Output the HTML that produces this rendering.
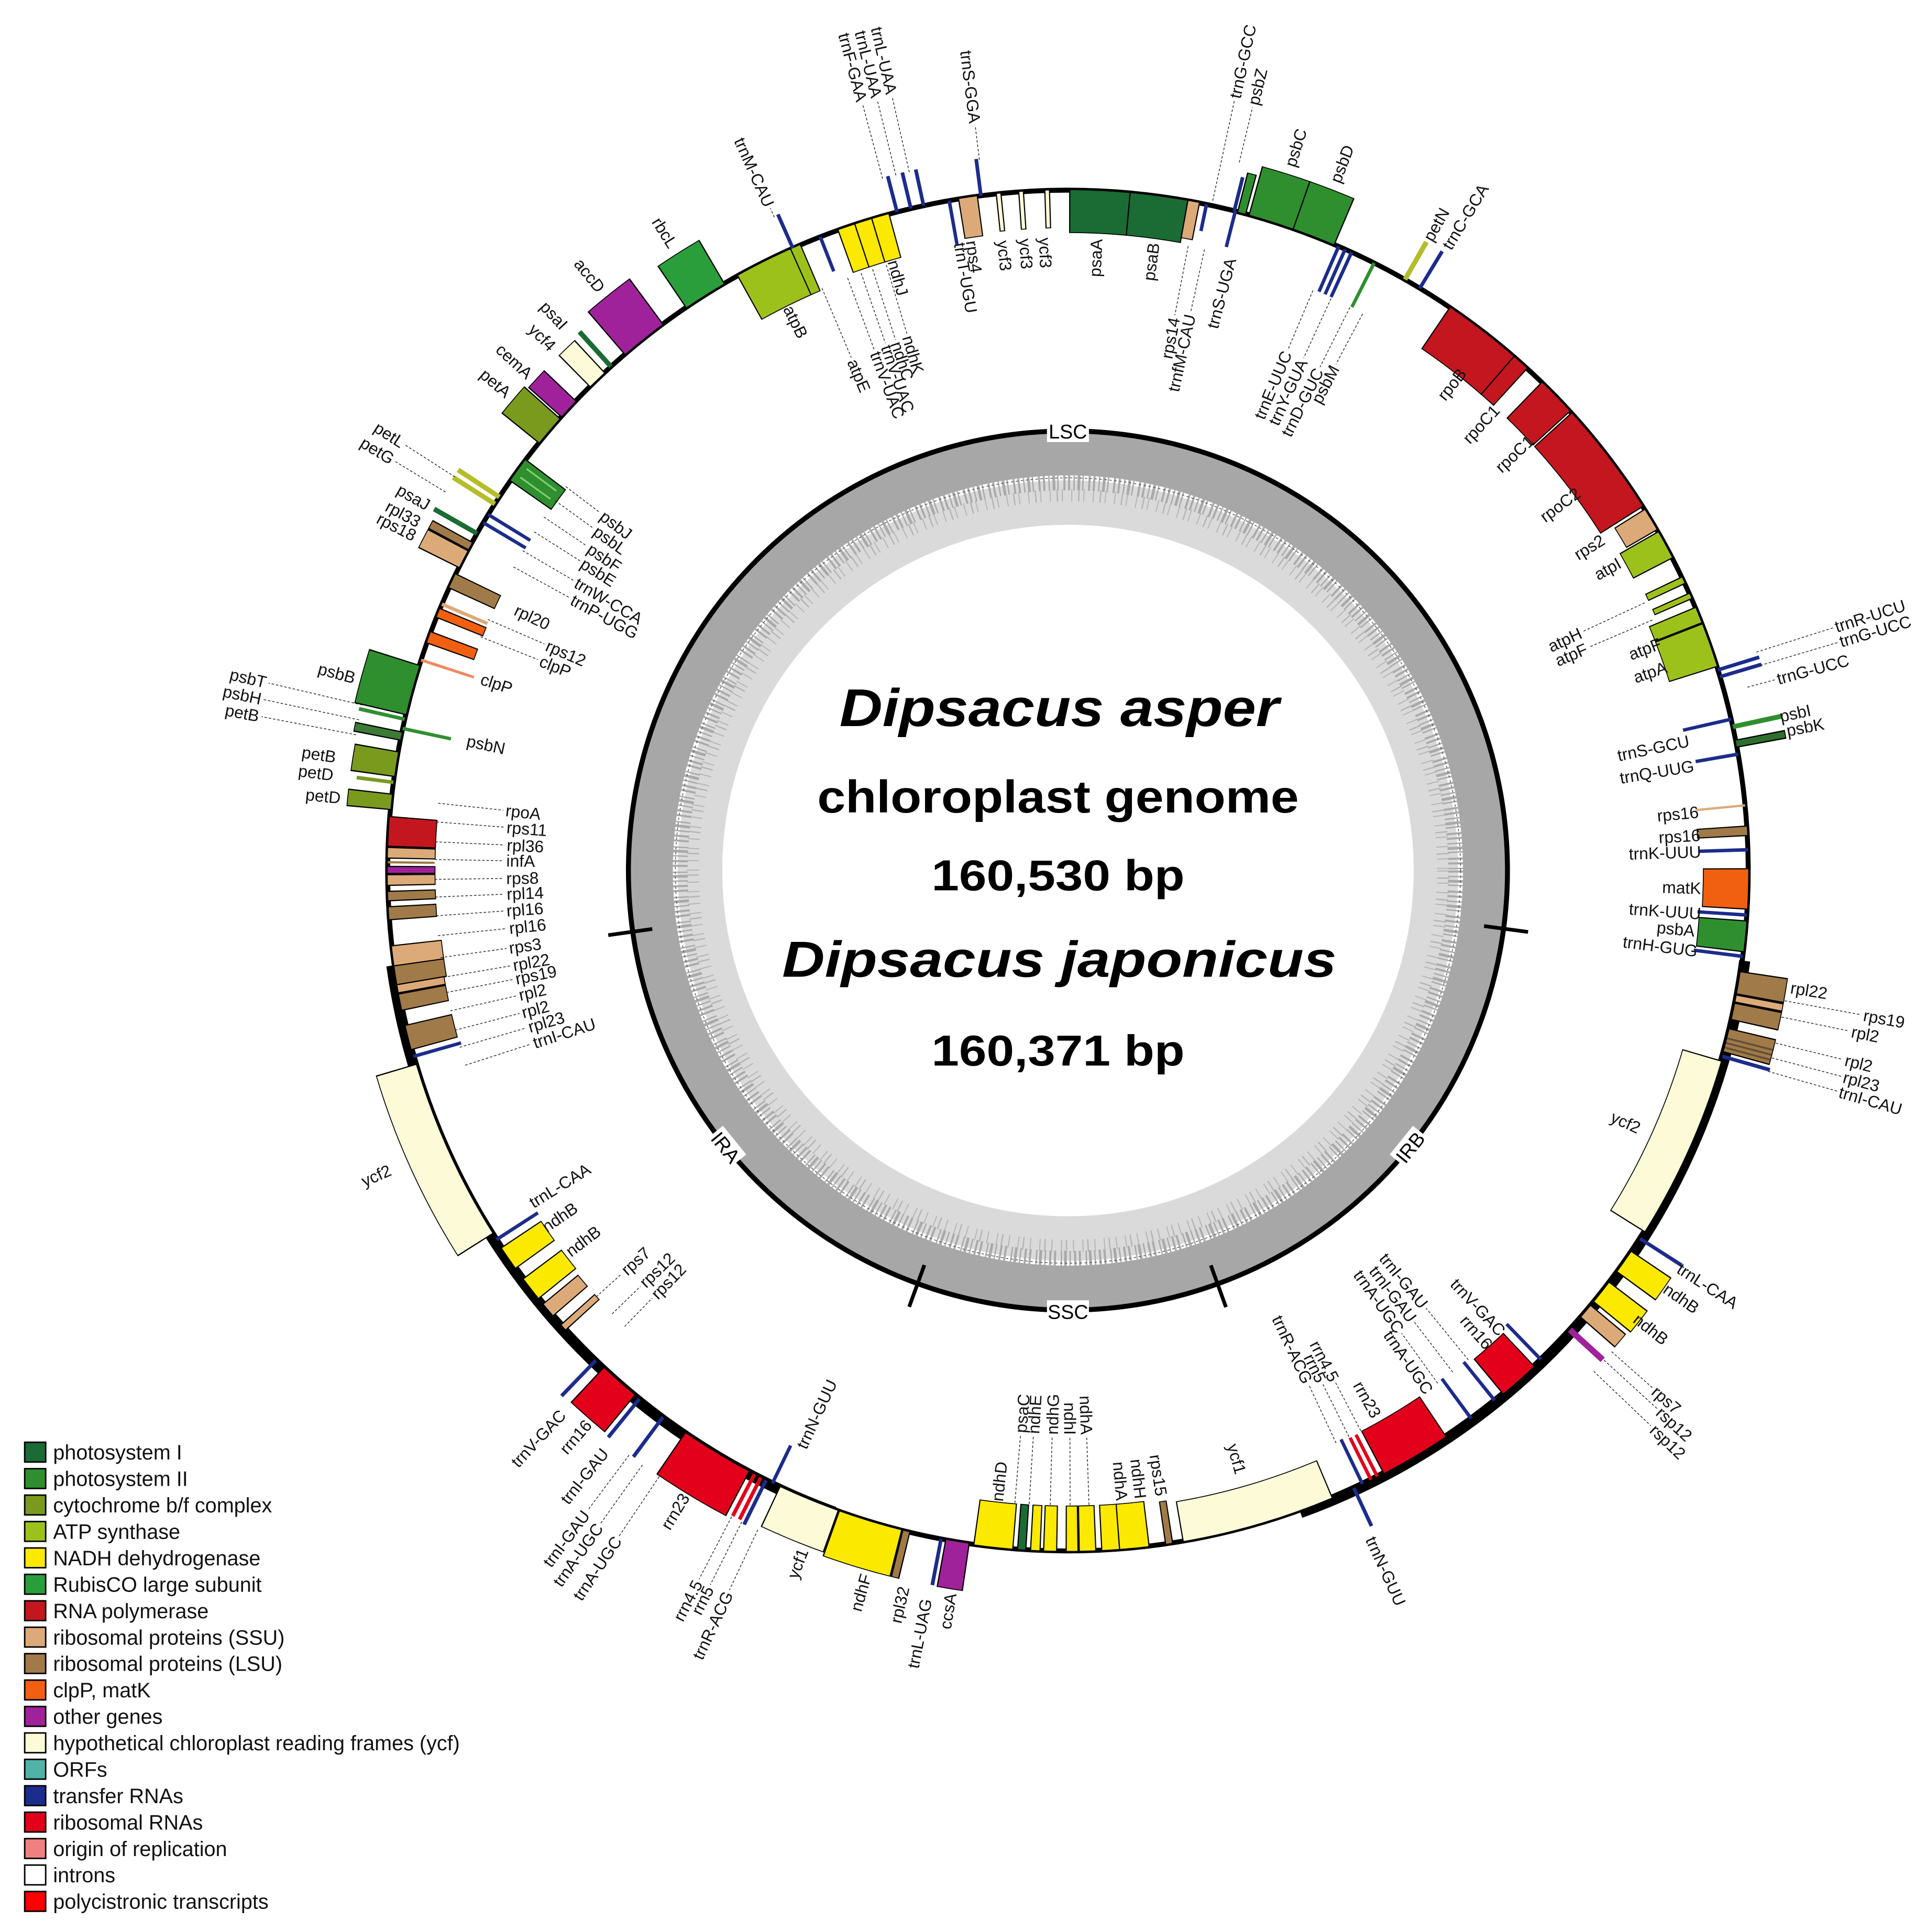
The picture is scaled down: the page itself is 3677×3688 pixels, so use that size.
<!DOCTYPE html>
<html><head><meta charset="utf-8"><style>
html,body{margin:0;padding:0;background:#fff}
svg{display:block}
text{font-family:"Liberation Sans",Arial,sans-serif}
.L text{font-size:13.5px;dominant-baseline:central;fill:#111}
.s{text-anchor:start}.e{text-anchor:end}
circle{fill:none}
.k{stroke:#000}
.p1{stroke:#1a6b34}.p2{stroke:#2f8f2f}.cy{stroke:#7a9a1e}.at{stroke:#9dc11b}.nd{stroke:#fbe900}
.rb{stroke:#2a9e3a}.rp{stroke:#c3161f}.ss{stroke:#dcaa78}.ls{stroke:#a07a48}.cl{stroke:#f06010}
.ot{stroke:#a0229a}.yc{stroke:#fdfad8}.tr{stroke:#1c2c8c}.rr{stroke:#e3001b}.pn{stroke:#b5bd2a}
.ld path{stroke:#222;stroke-width:0.6;fill:none;stroke-dasharray:2 1.5}
</style></head><body>
<svg xmlns="http://www.w3.org/2000/svg" width="3677" height="3688" viewBox="0 0 1560 1564.6" preserveAspectRatio="none">
<rect width="1560" height="1564.6" fill="#fff"/>
<g transform="translate(865,705)">
<circle r="298" stroke="#dadada" stroke-width="36"/>
<circle r="338" stroke="#a7a7a7" stroke-width="36"/>
<circle r="314" pathLength="360" stroke="#a9a9a9" stroke-width="12" stroke-dasharray="0.3 0.5 0.2 0.4 0.4 0.3 0.2 0.7 0.3 0.4"/>
<circle r="304" pathLength="360" stroke="#b4b4b4" stroke-width="10" stroke-dasharray="0.15 0.9 0.2 0.6 0.15 1.3"/>
<circle r="318" stroke="#555" stroke-width="0.6" stroke-dasharray="2 2"/>
<circle r="356" stroke="#000" stroke-width="4"/>
<g stroke="#000" stroke-width="3">
<path d="M0-340V-376" transform="rotate(97.6)"/><path d="M0-340V-376" transform="rotate(160.1)"/>
<path d="M0-340V-376" transform="rotate(200)"/><path d="M0-340V-376" transform="rotate(262)"/>
</g>
</g>
<rect x="848" y="340" width="34" height="18" fill="#fff"/><text x="865" y="355" font-size="16" text-anchor="middle">LSC</text>
<rect x="848" y="1053" width="34" height="18" fill="#fff"/><text x="865" y="1068" font-size="16" text-anchor="middle">SSC</text>
<g transform="translate(588,929) rotate(51)"><rect x="-15" y="-9" width="30" height="18" fill="#fff"/><text y="6" font-size="16" text-anchor="middle">IRA</text></g>
<g transform="translate(1142,929) rotate(-51)"><rect x="-15" y="-9" width="30" height="18" fill="#fff"/><text y="6" font-size="16" text-anchor="middle">IRB</text></g>

<text x="858" y="588" font-size="43" font-weight="bold" font-style="italic" text-anchor="middle" textLength="356" lengthAdjust="spacingAndGlyphs">Dipsacus asper</text>
<text x="857" y="658" font-size="37" font-weight="bold" text-anchor="middle" textLength="390" lengthAdjust="spacingAndGlyphs">chloroplast genome</text>
<text x="857" y="721" font-size="35" font-weight="bold" text-anchor="middle" textLength="205" lengthAdjust="spacingAndGlyphs">160,530 bp</text>
<text x="858" y="791" font-size="41" font-weight="bold" font-style="italic" text-anchor="middle" textLength="449" lengthAdjust="spacingAndGlyphs">Dipsacus japonicus</text>
<text x="857" y="863" font-size="35" font-weight="bold" text-anchor="middle" textLength="205" lengthAdjust="spacingAndGlyphs">160,371 bp</text>

<g transform="translate(865,705)">
<circle r="551" stroke="#000" stroke-width="4"/>
<circle r="553" pathLength="360" stroke="#000" stroke-width="9" stroke-dasharray="62.5 999" transform="rotate(7.6)"/>
<circle r="553" pathLength="360" stroke="#000" stroke-width="9" stroke-dasharray="62 999" transform="rotate(110)"/>

<circle r="534" pathLength="360" class="k" stroke-width="35.4" stroke-dasharray="5.2 999" transform="rotate(-89.9)"/><circle r="534" pathLength="360" class="p1" stroke-width="34" stroke-dasharray="5 999" transform="rotate(-89.8)"/>
<circle r="534" pathLength="360" class="k" stroke-width="35.4" stroke-dasharray="5 999" transform="rotate(-84.8)"/><circle r="534" pathLength="360" class="p1" stroke-width="34" stroke-dasharray="4.8 999" transform="rotate(-84.7)"/>
<circle r="536" pathLength="360" class="k" stroke-width="31.4" stroke-dasharray="1.1 999" transform="rotate(-79.9)"/><circle r="536" pathLength="360" class="ss" stroke-width="30" stroke-dasharray="0.9 999" transform="rotate(-79.8)"/>
<circle r="540" pathLength="360" class="tr" stroke-width="22" stroke-dasharray="0.3 999" transform="rotate(-78.4)"/>
<circle r="536" pathLength="360" class="tr" stroke-width="30" stroke-dasharray="0.3 999" transform="rotate(-75.9)"/>
<circle r="565" pathLength="360" class="tr" stroke-width="28" stroke-dasharray="0.3 999" transform="rotate(-76)"/>
<circle r="567" pathLength="360" class="k" stroke-width="33.4" stroke-dasharray="0.8 999" transform="rotate(-75.6)"/><circle r="567" pathLength="360" class="p2" stroke-width="32" stroke-dasharray="0.6 999" transform="rotate(-75.5)"/>
<circle r="571" pathLength="360" class="k" stroke-width="41.4" stroke-dasharray="4.1 999" transform="rotate(-74.6)"/><circle r="571" pathLength="360" class="p2" stroke-width="40" stroke-dasharray="3.9 999" transform="rotate(-74.5)"/>
<circle r="571" pathLength="360" class="k" stroke-width="41.4" stroke-dasharray="3.8 999" transform="rotate(-70.7)"/><circle r="571" pathLength="360" class="p2" stroke-width="40" stroke-dasharray="3.6 999" transform="rotate(-70.6)"/>
<circle r="531" pathLength="360" class="tr" stroke-width="40" stroke-dasharray="0.3 999" transform="rotate(-66.7)"/>
<circle r="531" pathLength="360" class="tr" stroke-width="40" stroke-dasharray="0.3 999" transform="rotate(-66.1)"/>
<circle r="531" pathLength="360" class="tr" stroke-width="40" stroke-dasharray="0.3 999" transform="rotate(-65.5)"/>
<circle r="531" pathLength="360" class="p2" stroke-width="40" stroke-dasharray="0.3 999" transform="rotate(-63.4)"/>
<circle r="568.5" pathLength="360" class="pn" stroke-width="35" stroke-dasharray="0.4 999" transform="rotate(-60.5)"/>
<circle r="568.5" pathLength="360" class="tr" stroke-width="35" stroke-dasharray="0.3 999" transform="rotate(-59)"/>
<circle r="531" pathLength="360" class="k" stroke-width="41.4" stroke-dasharray="7 999" transform="rotate(-55.9)"/><circle r="531" pathLength="360" class="rp" stroke-width="40" stroke-dasharray="6.8 999" transform="rotate(-55.8)"/>
<circle r="531" pathLength="360" class="k" stroke-width="41.4" stroke-dasharray="1.6 999" transform="rotate(-49.1)"/><circle r="531" pathLength="360" class="rp" stroke-width="40" stroke-dasharray="1.4 999" transform="rotate(-49)"/>
<circle r="531" pathLength="360" class="k" stroke-width="41.4" stroke-dasharray="3.5 999" transform="rotate(-45.9)"/><circle r="531" pathLength="360" class="rp" stroke-width="40" stroke-dasharray="3.3 999" transform="rotate(-45.8)"/>
<circle r="531" pathLength="360" class="k" stroke-width="41.4" stroke-dasharray="10 999" transform="rotate(-42.3)"/><circle r="531" pathLength="360" class="rp" stroke-width="40" stroke-dasharray="9.8 999" transform="rotate(-42.2)"/>
<circle r="537" pathLength="360" class="k" stroke-width="29.4" stroke-dasharray="2.1 999" transform="rotate(-32.1)"/><circle r="537" pathLength="360" class="ss" stroke-width="28" stroke-dasharray="1.9 999" transform="rotate(-32)"/>
<circle r="533.5" pathLength="360" class="k" stroke-width="36.4" stroke-dasharray="2.6 999" transform="rotate(-29.9)"/><circle r="533.5" pathLength="360" class="at" stroke-width="35" stroke-dasharray="2.4 999" transform="rotate(-29.8)"/>
<circle r="535" pathLength="360" class="k" stroke-width="33.4" stroke-dasharray="0.7 999" transform="rotate(-25.6)"/><circle r="535" pathLength="360" class="at" stroke-width="32" stroke-dasharray="0.5 999" transform="rotate(-25.5)"/>
<circle r="535" pathLength="360" class="k" stroke-width="33.4" stroke-dasharray="0.6 999" transform="rotate(-24.1)"/><circle r="535" pathLength="360" class="at" stroke-width="32" stroke-dasharray="0.4 999" transform="rotate(-24)"/>
<circle r="531" pathLength="360" class="k" stroke-width="41.4" stroke-dasharray="1.5 999" transform="rotate(-22.8)"/><circle r="531" pathLength="360" class="at" stroke-width="40" stroke-dasharray="1.3 999" transform="rotate(-22.7)"/>
<circle r="531" pathLength="360" class="k" stroke-width="41.4" stroke-dasharray="3.9 999" transform="rotate(-21.3)"/><circle r="531" pathLength="360" class="at" stroke-width="40" stroke-dasharray="3.7 999" transform="rotate(-21.2)"/>
<circle r="568.5" pathLength="360" class="tr" stroke-width="35" stroke-dasharray="0.3 999" transform="rotate(-17.3)"/>
<circle r="568.5" pathLength="360" class="tr" stroke-width="35" stroke-dasharray="0.3 999" transform="rotate(-16.7)"/>
<circle r="531" pathLength="360" class="tr" stroke-width="40" stroke-dasharray="0.3 999" transform="rotate(-13)"/>
<circle r="571" pathLength="360" class="p2" stroke-width="40" stroke-dasharray="0.4 999" transform="rotate(-12.4)"/>
<circle r="571" pathLength="360" class="k" stroke-width="41.4" stroke-dasharray="0.7 999" transform="rotate(-11.1)"/><circle r="571" pathLength="360" stroke="#2e6e2e" stroke-width="40" stroke-dasharray="0.5 999" transform="rotate(-11)"/>
<circle r="533.5" pathLength="360" class="tr" stroke-width="35" stroke-dasharray="0.3 999" transform="rotate(-10)"/>
<circle r="531" pathLength="360" class="ss" stroke-width="40" stroke-dasharray="0.2 999" transform="rotate(-5.6)"/>
<circle r="531" pathLength="360" class="k" stroke-width="41.4" stroke-dasharray="0.9 999" transform="rotate(-3.8)"/><circle r="531" pathLength="360" class="ls" stroke-width="40" stroke-dasharray="0.7 999" transform="rotate(-3.7)"/>
<circle r="531" pathLength="360" class="tr" stroke-width="40" stroke-dasharray="0.3 999" transform="rotate(-1.9)"/>
<circle r="533" pathLength="360" class="k" stroke-width="37.4" stroke-dasharray="3.5 999" transform="rotate(-0.2)"/><circle r="533" pathLength="360" class="cl" stroke-width="36" stroke-dasharray="3.3 999" transform="rotate(-0.1)"/>
<circle r="531" pathLength="360" class="tr" stroke-width="40" stroke-dasharray="0.3 999" transform="rotate(3.6)"/>
<circle r="532" pathLength="360" class="k" stroke-width="39.4" stroke-dasharray="2.7 999" transform="rotate(4.2)"/><circle r="532" pathLength="360" class="p2" stroke-width="38" stroke-dasharray="2.5 999" transform="rotate(4.3)"/>
<circle r="531" pathLength="360" class="tr" stroke-width="40" stroke-dasharray="0.3 999" transform="rotate(7.1)"/>
<circle r="570" pathLength="360" class="k" stroke-width="39.4" stroke-dasharray="2 999" transform="rotate(8.5)"/><circle r="570" pathLength="360" class="ls" stroke-width="38" stroke-dasharray="1.8 999" transform="rotate(8.6)"/>
<circle r="570" pathLength="360" class="k" stroke-width="39.4" stroke-dasharray="0.7 999" transform="rotate(10.5)"/><circle r="570" pathLength="360" class="ss" stroke-width="38" stroke-dasharray="0.5 999" transform="rotate(10.6)"/>
<circle r="570" pathLength="360" class="k" stroke-width="39.4" stroke-dasharray="1.5 999" transform="rotate(11.2)"/><circle r="570" pathLength="360" class="ls" stroke-width="38" stroke-dasharray="1.3 999" transform="rotate(11.3)"/>
<circle r="570" pathLength="360" class="k" stroke-width="39.4" stroke-dasharray="2.1 999" transform="rotate(13.4)"/><circle r="570" pathLength="360" class="ls" stroke-width="38" stroke-dasharray="1.9 999" transform="rotate(13.5)"/>
<circle r="570" pathLength="360" stroke="#222" stroke-width="38" transform="rotate(14.2)" opacity="0.5" style="stroke-dasharray:0.15 0.25 0.15 0.25 0.15 999"/>
<circle r="571" pathLength="360" class="tr" stroke-width="40" stroke-dasharray="0.3 999" transform="rotate(15.7)"/>
<circle r="535" pathLength="360" class="k" stroke-width="33.4" stroke-dasharray="15.9 999" transform="rotate(16.2)"/><circle r="535" pathLength="360" class="yc" stroke-width="32" stroke-dasharray="15.7 999" transform="rotate(16.3)"/>
<circle r="571" pathLength="360" class="tr" stroke-width="40" stroke-dasharray="0.3 999" transform="rotate(32.6)"/>
<circle r="570" pathLength="360" class="k" stroke-width="39.4" stroke-dasharray="2.2 999" transform="rotate(34)"/><circle r="570" pathLength="360" class="nd" stroke-width="38" stroke-dasharray="2 999" transform="rotate(34.1)"/>
<circle r="570" pathLength="360" class="k" stroke-width="39.4" stroke-dasharray="2.2 999" transform="rotate(37.2)"/><circle r="570" pathLength="360" class="nd" stroke-width="38" stroke-dasharray="2 999" transform="rotate(37.3)"/>
<circle r="569" pathLength="360" class="k" stroke-width="37.4" stroke-dasharray="1.4 999" transform="rotate(39.7)"/><circle r="569" pathLength="360" class="ss" stroke-width="36" stroke-dasharray="1.2 999" transform="rotate(39.8)"/>
<circle r="569" pathLength="360" class="ot" stroke-width="36" stroke-dasharray="0.5 999" transform="rotate(42.2)"/>
<circle r="531" pathLength="360" class="tr" stroke-width="40" stroke-dasharray="0.3 999" transform="rotate(45.8)"/>
<circle r="533" pathLength="360" class="k" stroke-width="37.4" stroke-dasharray="3.6 999" transform="rotate(46.7)"/><circle r="533" pathLength="360" class="rr" stroke-width="36" stroke-dasharray="3.4 999" transform="rotate(46.8)"/>
<circle r="531" pathLength="360" class="tr" stroke-width="40" stroke-dasharray="0.3 999" transform="rotate(51)"/>
<circle r="531" pathLength="360" class="tr" stroke-width="40" stroke-dasharray="0.3 999" transform="rotate(53.5)"/>
<circle r="532" pathLength="360" class="k" stroke-width="39.4" stroke-dasharray="6.2 999" transform="rotate(56.2)"/><circle r="532" pathLength="360" class="rr" stroke-width="38" stroke-dasharray="6 999" transform="rotate(56.3)"/>
<circle r="532" pathLength="360" class="rr" stroke-width="38" stroke-dasharray="0.3 999" transform="rotate(62.8)"/>
<circle r="532" pathLength="360" class="rr" stroke-width="38" stroke-dasharray="0.3 999" transform="rotate(63.4)"/>
<circle r="531" pathLength="360" class="tr" stroke-width="40" stroke-dasharray="0.3 999" transform="rotate(64.2)"/>
<circle r="568" pathLength="360" class="tr" stroke-width="34" stroke-dasharray="0.3 999" transform="rotate(65)"/>
<circle r="535" pathLength="360" class="k" stroke-width="33.4" stroke-dasharray="13.2 999" transform="rotate(67.1)"/><circle r="535" pathLength="360" class="yc" stroke-width="32" stroke-dasharray="13 999" transform="rotate(67.2)"/>
<circle r="534" pathLength="360" class="k" stroke-width="35.4" stroke-dasharray="0.7 999" transform="rotate(81.1)"/><circle r="534" pathLength="360" class="ls" stroke-width="34" stroke-dasharray="0.5 999" transform="rotate(81.2)"/>
<circle r="533" pathLength="360" class="k" stroke-width="37.4" stroke-dasharray="2.6 999" transform="rotate(83.1)"/><circle r="533" pathLength="360" class="nd" stroke-width="36" stroke-dasharray="2.4 999" transform="rotate(83.2)"/>
<circle r="533" pathLength="360" class="k" stroke-width="37.4" stroke-dasharray="1.6 999" transform="rotate(85.6)"/><circle r="533" pathLength="360" class="nd" stroke-width="36" stroke-dasharray="1.4 999" transform="rotate(85.7)"/>
<circle r="533" pathLength="360" class="k" stroke-width="37.4" stroke-dasharray="1.5 999" transform="rotate(87.6)"/><circle r="533" pathLength="360" class="nd" stroke-width="36" stroke-dasharray="1.3 999" transform="rotate(87.7)"/>
<circle r="533" pathLength="360" class="k" stroke-width="37.4" stroke-dasharray="1.1 999" transform="rotate(89.1)"/><circle r="533" pathLength="360" class="nd" stroke-width="36" stroke-dasharray="0.9 999" transform="rotate(89.2)"/>
<circle r="533" pathLength="360" class="k" stroke-width="37.4" stroke-dasharray="1.2 999" transform="rotate(90.9)"/><circle r="533" pathLength="360" class="nd" stroke-width="36" stroke-dasharray="1 999" transform="rotate(91)"/>
<circle r="533" pathLength="360" class="k" stroke-width="37.4" stroke-dasharray="0.9 999" transform="rotate(92.3)"/><circle r="533" pathLength="360" class="nd" stroke-width="36" stroke-dasharray="0.7 999" transform="rotate(92.4)"/>
<circle r="533" pathLength="360" class="k" stroke-width="37.4" stroke-dasharray="0.8 999" transform="rotate(93.5)"/><circle r="533" pathLength="360" class="p1" stroke-width="36" stroke-dasharray="0.6 999" transform="rotate(93.6)"/>
<circle r="533" pathLength="360" class="k" stroke-width="37.4" stroke-dasharray="3.4 999" transform="rotate(94.6)"/><circle r="533" pathLength="360" class="nd" stroke-width="36" stroke-dasharray="3.2 999" transform="rotate(94.7)"/>
<circle r="570" pathLength="360" class="k" stroke-width="39.4" stroke-dasharray="2.1 999" transform="rotate(98.3)"/><circle r="570" pathLength="360" class="ot" stroke-width="38" stroke-dasharray="1.9 999" transform="rotate(98.4)"/>
<circle r="570" pathLength="360" class="tr" stroke-width="38" stroke-dasharray="0.3 999" transform="rotate(100.6)"/>
<circle r="570" pathLength="360" class="k" stroke-width="39.4" stroke-dasharray="0.7 999" transform="rotate(103.4)"/><circle r="570" pathLength="360" class="ls" stroke-width="38" stroke-dasharray="0.5 999" transform="rotate(103.5)"/>
<circle r="570" pathLength="360" class="k" stroke-width="39.4" stroke-dasharray="5.6 999" transform="rotate(104.1)"/><circle r="570" pathLength="360" class="nd" stroke-width="38" stroke-dasharray="5.4 999" transform="rotate(104.2)"/>
<circle r="568.5" pathLength="360" class="k" stroke-width="36.4" stroke-dasharray="5.4 999" transform="rotate(109.7)"/><circle r="568.5" pathLength="360" class="yc" stroke-width="35" stroke-dasharray="5.2 999" transform="rotate(109.8)"/>
<circle r="534" pathLength="360" class="tr" stroke-width="34" stroke-dasharray="0.3 999" transform="rotate(115.6)"/>
<circle r="571" pathLength="360" class="tr" stroke-width="40" stroke-dasharray="0.3 999" transform="rotate(116.2)"/>
<circle r="570" pathLength="360" class="rr" stroke-width="38" stroke-dasharray="0.3 999" transform="rotate(116.7)"/>
<circle r="570" pathLength="360" class="rr" stroke-width="38" stroke-dasharray="0.3 999" transform="rotate(117.3)"/>
<circle r="571" pathLength="360" class="k" stroke-width="41.4" stroke-dasharray="6.4 999" transform="rotate(117.9)"/><circle r="571" pathLength="360" class="rr" stroke-width="40" stroke-dasharray="6.2 999" transform="rotate(118)"/>
<circle r="571" pathLength="360" class="tr" stroke-width="40" stroke-dasharray="0.3 999" transform="rotate(126.4)"/>
<circle r="571" pathLength="360" class="tr" stroke-width="40" stroke-dasharray="0.3 999" transform="rotate(128.9)"/>
<circle r="570" pathLength="360" class="k" stroke-width="39.4" stroke-dasharray="3.6 999" transform="rotate(129.5)"/><circle r="570" pathLength="360" class="rr" stroke-width="38" stroke-dasharray="3.4 999" transform="rotate(129.6)"/>
<circle r="571" pathLength="360" class="tr" stroke-width="40" stroke-dasharray="0.3 999" transform="rotate(133.8)"/>
<circle r="533" pathLength="360" class="k" stroke-width="37.4" stroke-dasharray="0.7 999" transform="rotate(137.5)"/><circle r="533" pathLength="360" class="ss" stroke-width="36" stroke-dasharray="0.5 999" transform="rotate(137.6)"/>
<circle r="533" pathLength="360" class="k" stroke-width="37.4" stroke-dasharray="1.4 999" transform="rotate(139.1)"/><circle r="533" pathLength="360" class="ss" stroke-width="36" stroke-dasharray="1.2 999" transform="rotate(139.2)"/>
<circle r="532" pathLength="360" class="k" stroke-width="39.4" stroke-dasharray="2.2 999" transform="rotate(141)"/><circle r="532" pathLength="360" class="nd" stroke-width="38" stroke-dasharray="2 999" transform="rotate(141.1)"/>
<circle r="532" pathLength="360" class="k" stroke-width="39.4" stroke-dasharray="2.2 999" transform="rotate(144.2)"/><circle r="532" pathLength="360" class="nd" stroke-width="38" stroke-dasharray="2 999" transform="rotate(144.3)"/>
<circle r="531" pathLength="360" class="tr" stroke-width="40" stroke-dasharray="0.3 999" transform="rotate(147)"/>
<circle r="567.5" pathLength="360" class="k" stroke-width="34.4" stroke-dasharray="15.8 999" transform="rotate(147.7)"/><circle r="567.5" pathLength="360" class="yc" stroke-width="33" stroke-dasharray="15.6 999" transform="rotate(147.8)"/>
<circle r="531" pathLength="360" class="tr" stroke-width="40" stroke-dasharray="0.3 999" transform="rotate(164)"/>
<circle r="532" pathLength="360" class="k" stroke-width="39.4" stroke-dasharray="2.2 999" transform="rotate(164.7)"/><circle r="532" pathLength="360" class="ls" stroke-width="38" stroke-dasharray="2 999" transform="rotate(164.8)"/>
<circle r="532" pathLength="360" class="k" stroke-width="39.4" stroke-dasharray="1.5 999" transform="rotate(168.1)"/><circle r="532" pathLength="360" class="ls" stroke-width="38" stroke-dasharray="1.3 999" transform="rotate(168.2)"/>
<circle r="532" pathLength="360" class="k" stroke-width="39.4" stroke-dasharray="0.8 999" transform="rotate(169.6)"/><circle r="532" pathLength="360" class="ss" stroke-width="38" stroke-dasharray="0.6 999" transform="rotate(169.7)"/>
<circle r="531" pathLength="360" class="k" stroke-width="41.4" stroke-dasharray="1.8 999" transform="rotate(170.3)"/><circle r="531" pathLength="360" class="ls" stroke-width="40" stroke-dasharray="1.6 999" transform="rotate(170.4)"/>
<circle r="531" pathLength="360" class="k" stroke-width="41.4" stroke-dasharray="1.8 999" transform="rotate(171.9)"/><circle r="531" pathLength="360" class="ss" stroke-width="40" stroke-dasharray="1.6 999" transform="rotate(172)"/>
<circle r="532" pathLength="360" class="k" stroke-width="39.4" stroke-dasharray="1.2 999" transform="rotate(175.8)"/><circle r="532" pathLength="360" class="ls" stroke-width="38" stroke-dasharray="1 999" transform="rotate(175.9)"/>
<circle r="532" pathLength="360" class="k" stroke-width="39.4" stroke-dasharray="0.9 999" transform="rotate(177.4)"/><circle r="532" pathLength="360" class="ls" stroke-width="38" stroke-dasharray="0.7 999" transform="rotate(177.5)"/>
<circle r="532" pathLength="360" class="k" stroke-width="39.4" stroke-dasharray="1 999" transform="rotate(178.7)"/><circle r="532" pathLength="360" class="ss" stroke-width="38" stroke-dasharray="0.8 999" transform="rotate(178.8)"/>
<circle r="532" pathLength="360" class="k" stroke-width="39.4" stroke-dasharray="0.7 999" transform="rotate(179.7)"/><circle r="532" pathLength="360" class="ot" stroke-width="38" stroke-dasharray="0.5 999" transform="rotate(179.8)"/>
<circle r="532" pathLength="360" class="ls" stroke-width="38" stroke-dasharray="0.2 999" transform="rotate(180.6)"/>
<circle r="532" pathLength="360" class="k" stroke-width="39.4" stroke-dasharray="1 999" transform="rotate(181)"/><circle r="532" pathLength="360" class="ss" stroke-width="38" stroke-dasharray="0.8 999" transform="rotate(181.1)"/>
<circle r="532" pathLength="360" class="k" stroke-width="39.4" stroke-dasharray="2.6 999" transform="rotate(182)"/><circle r="532" pathLength="360" class="rp" stroke-width="38" stroke-dasharray="2.4 999" transform="rotate(182.1)"/>
<circle r="568.5" pathLength="360" class="k" stroke-width="36.4" stroke-dasharray="1.4 999" transform="rotate(185.1)"/><circle r="568.5" pathLength="360" class="cy" stroke-width="35" stroke-dasharray="1.2 999" transform="rotate(185.2)"/>
<circle r="566" pathLength="360" class="cy" stroke-width="30" stroke-dasharray="0.3 999" transform="rotate(187.3)"/>
<circle r="568.5" pathLength="360" class="k" stroke-width="36.4" stroke-dasharray="2.2 999" transform="rotate(187.9)"/><circle r="568.5" pathLength="360" class="cy" stroke-width="35" stroke-dasharray="2 999" transform="rotate(188)"/>
<circle r="570" pathLength="360" class="k" stroke-width="39.4" stroke-dasharray="0.8 999" transform="rotate(191)"/><circle r="570" pathLength="360" stroke="#3d7a36" stroke-width="38" stroke-dasharray="0.6 999" transform="rotate(191.1)"/>
<circle r="531" pathLength="360" class="p2" stroke-width="40" stroke-dasharray="0.3 999" transform="rotate(191.9)"/>
<circle r="570" pathLength="360" class="p2" stroke-width="38" stroke-dasharray="0.3 999" transform="rotate(192.7)"/>
<circle r="572" pathLength="360" class="k" stroke-width="43.4" stroke-dasharray="4.4 999" transform="rotate(193.2)"/><circle r="572" pathLength="360" class="p2" stroke-width="42" stroke-dasharray="4.2 999" transform="rotate(193.3)"/>
<circle r="528.5" pathLength="360" stroke="#f08a60" stroke-width="45" stroke-dasharray="0.25 999" transform="rotate(197.9)"/>
<circle r="531" pathLength="360" class="k" stroke-width="41.4" stroke-dasharray="1.1 999" transform="rotate(199.5)"/><circle r="531" pathLength="360" class="cl" stroke-width="40" stroke-dasharray="0.9 999" transform="rotate(199.6)"/>
<circle r="531" pathLength="360" class="k" stroke-width="41.4" stroke-dasharray="0.9 999" transform="rotate(201.8)"/><circle r="531" pathLength="360" class="cl" stroke-width="40" stroke-dasharray="0.7 999" transform="rotate(201.9)"/>
<circle r="531" pathLength="360" class="ss" stroke-width="40" stroke-dasharray="0.3 999" transform="rotate(202.9)"/>
<circle r="531" pathLength="360" class="k" stroke-width="41.4" stroke-dasharray="1.4 999" transform="rotate(204.5)"/><circle r="531" pathLength="360" class="ls" stroke-width="40" stroke-dasharray="1.2 999" transform="rotate(204.6)"/>
<circle r="569" pathLength="360" class="k" stroke-width="37.4" stroke-dasharray="1.7 999" transform="rotate(206.4)"/><circle r="569" pathLength="360" class="ss" stroke-width="36" stroke-dasharray="1.5 999" transform="rotate(206.5)"/>
<circle r="569" pathLength="360" class="k" stroke-width="37.4" stroke-dasharray="0.8 999" transform="rotate(208.1)"/><circle r="569" pathLength="360" class="ls" stroke-width="36" stroke-dasharray="0.6 999" transform="rotate(208.2)"/>
<circle r="571" pathLength="360" class="p1" stroke-width="40" stroke-dasharray="0.4 999" transform="rotate(209.5)"/>
<circle r="531" pathLength="360" class="tr" stroke-width="40" stroke-dasharray="0.3 999" transform="rotate(210.6)"/>
<circle r="531" pathLength="360" class="tr" stroke-width="40" stroke-dasharray="0.3 999" transform="rotate(211.4)"/>
<circle r="571" pathLength="360" class="pn" stroke-width="40" stroke-dasharray="0.4 999" transform="rotate(212.4)"/>
<circle r="571" pathLength="360" class="pn" stroke-width="40" stroke-dasharray="0.4 999" transform="rotate(213.1)"/>
<circle r="531" pathLength="360" class="k" stroke-width="41.4" stroke-dasharray="2.3 999" transform="rotate(214.9)"/><circle r="531" pathLength="360" class="p2" stroke-width="40" stroke-dasharray="2.1 999" transform="rotate(215)"/>
<circle r="531" pathLength="360" stroke="#7fcf6f" stroke-width="30" stroke-dasharray="0.15 999" transform="rotate(215.6)"/>
<circle r="531" pathLength="360" stroke="#7fcf6f" stroke-width="30" stroke-dasharray="0.15 999" transform="rotate(216.5)"/>
<circle r="570" pathLength="360" class="k" stroke-width="39.4" stroke-dasharray="2.8 999" transform="rotate(218.9)"/><circle r="570" pathLength="360" class="cy" stroke-width="38" stroke-dasharray="2.6 999" transform="rotate(219)"/>
<circle r="568.5" pathLength="360" class="k" stroke-width="36.4" stroke-dasharray="1.9 999" transform="rotate(221.8)"/><circle r="568.5" pathLength="360" class="ot" stroke-width="35" stroke-dasharray="1.7 999" transform="rotate(221.9)"/>
<circle r="568.5" pathLength="360" class="k" stroke-width="36.4" stroke-dasharray="1.8 999" transform="rotate(225.3)"/><circle r="568.5" pathLength="360" class="yc" stroke-width="35" stroke-dasharray="1.6 999" transform="rotate(225.4)"/>
<circle r="570" pathLength="360" class="p1" stroke-width="38" stroke-dasharray="0.4 999" transform="rotate(227.6)"/>
<circle r="573.5" pathLength="360" class="k" stroke-width="46.4" stroke-dasharray="4.2 999" transform="rotate(229.3)"/><circle r="573.5" pathLength="360" class="ot" stroke-width="45" stroke-dasharray="4 999" transform="rotate(229.4)"/>
<circle r="571" pathLength="360" class="k" stroke-width="41.4" stroke-dasharray="3.9 999" transform="rotate(235.8)"/><circle r="571" pathLength="360" class="rb" stroke-width="40" stroke-dasharray="3.7 999" transform="rotate(235.9)"/>
<circle r="531" pathLength="360" class="k" stroke-width="41.4" stroke-dasharray="5.2 999" transform="rotate(240.9)"/><circle r="531" pathLength="360" class="at" stroke-width="40" stroke-dasharray="5 999" transform="rotate(241)"/>
<circle r="531" pathLength="360" class="k" stroke-width="41.4" stroke-dasharray="1 999" transform="rotate(245.9)"/><circle r="531" pathLength="360" class="at" stroke-width="40" stroke-dasharray="0.8 999" transform="rotate(246)"/>
<circle r="566" pathLength="360" class="tr" stroke-width="30" stroke-dasharray="0.3 999" transform="rotate(246)"/>
<circle r="536" pathLength="360" class="tr" stroke-width="30" stroke-dasharray="0.3 999" transform="rotate(248.5)"/>
<circle r="533" pathLength="360" class="k" stroke-width="37.4" stroke-dasharray="1.6 999" transform="rotate(250.2)"/><circle r="533" pathLength="360" class="nd" stroke-width="36" stroke-dasharray="1.4 999" transform="rotate(250.3)"/>
<circle r="533" pathLength="360" class="k" stroke-width="37.4" stroke-dasharray="1.6 999" transform="rotate(251.7)"/><circle r="533" pathLength="360" class="nd" stroke-width="36" stroke-dasharray="1.4 999" transform="rotate(251.8)"/>
<circle r="533" pathLength="360" class="k" stroke-width="37.4" stroke-dasharray="1.6 999" transform="rotate(253.2)"/><circle r="533" pathLength="360" class="nd" stroke-width="36" stroke-dasharray="1.4 999" transform="rotate(253.3)"/>
<circle r="566" pathLength="360" class="tr" stroke-width="30" stroke-dasharray="0.3 999" transform="rotate(255.3)"/>
<circle r="566" pathLength="360" class="tr" stroke-width="30" stroke-dasharray="0.3 999" transform="rotate(256.5)"/>
<circle r="566" pathLength="360" class="tr" stroke-width="30" stroke-dasharray="0.3 999" transform="rotate(257.6)"/>
<circle r="533" pathLength="360" class="tr" stroke-width="36" stroke-dasharray="0.3 999" transform="rotate(259.8)"/>
<circle r="535" pathLength="360" class="k" stroke-width="33.4" stroke-dasharray="1.7 999" transform="rotate(260.7)"/><circle r="535" pathLength="360" class="ss" stroke-width="32" stroke-dasharray="1.5 999" transform="rotate(260.8)"/>
<circle r="566" pathLength="360" class="tr" stroke-width="30" stroke-dasharray="0.3 999" transform="rotate(262.5)"/>
<circle r="536" pathLength="360" class="k" stroke-width="31.4" stroke-dasharray="0.5 999" transform="rotate(263.9)"/><circle r="536" pathLength="360" class="yc" stroke-width="30" stroke-dasharray="0.3 999" transform="rotate(264)"/>
<circle r="536" pathLength="360" class="k" stroke-width="31.4" stroke-dasharray="0.5 999" transform="rotate(265.8)"/><circle r="536" pathLength="360" class="yc" stroke-width="30" stroke-dasharray="0.3 999" transform="rotate(265.9)"/>
<circle r="536" pathLength="360" class="k" stroke-width="31.4" stroke-dasharray="0.5 999" transform="rotate(268)"/><circle r="536" pathLength="360" class="yc" stroke-width="30" stroke-dasharray="0.3 999" transform="rotate(268.1)"/>

<g class="ld">
<path d="M0-555V-638" transform="rotate(12.2)"/><path d="M0-590V-636" transform="rotate(13.6)"/>
<path d="M0-510V-458" transform="rotate(22.9)"/><path d="M0-510V-457" transform="rotate(24.7)"/><path d="M0-510V-456" transform="rotate(26.6)"/><path d="M0-510V-464" transform="rotate(27.9)"/>
<path d="M0-515V-460" transform="rotate(65.1)"/><path d="M0-515V-459" transform="rotate(66.8)"/>
<path d="M0-585V-650" transform="rotate(72.4)"/><path d="M0-585V-650" transform="rotate(73.5)"/><path d="M0-570V-593" transform="rotate(74.9)"/>
<path d="M0-590V-653" transform="rotate(100.3)"/><path d="M0-590V-646" transform="rotate(101.6)"/><path d="M0-590V-646" transform="rotate(103.7)"/><path d="M0-590V-648" transform="rotate(104.9)"/><path d="M0-590V-648" transform="rotate(106)"/>
<path d="M0-588V-632" transform="rotate(131.5)"/><path d="M0-588V-646" transform="rotate(132.4)"/><path d="M0-588V-652" transform="rotate(133.6)"/>
<path d="M0-512V-458" transform="rotate(140.7)"/><path d="M0-512V-461" transform="rotate(142.5)"/><path d="M0-512V-462" transform="rotate(144.2)"/>
<path d="M0-512V-468" transform="rotate(152.4)"/><path d="M0-512V-464" transform="rotate(153.6)"/><path d="M0-512V-460" transform="rotate(154.9)"/>
<path d="M0-514V-459" transform="rotate(178.1)"/><path d="M0-514V-459" transform="rotate(179.8)"/><path d="M0-514V-459" transform="rotate(181.6)"/><path d="M0-514V-459" transform="rotate(183.5)"/><path d="M0-514V-459" transform="rotate(184.8)"/>
<path d="M0-590V-644" transform="rotate(205.2)"/><path d="M0-590V-647" transform="rotate(206.6)"/><path d="M0-590V-647" transform="rotate(207.5)"/>
<path d="M0-592V-650" transform="rotate(214)"/><path d="M0-592V-650" transform="rotate(215.6)"/><path d="M0-592V-648" transform="rotate(216.9)"/>
<path d="M0-515V-483" transform="rotate(224.2)"/><path d="M0-515V-483" transform="rotate(225.8)"/><path d="M0-515V-487" transform="rotate(227.9)"/>
<path d="M0-513V-457" transform="rotate(252.1)"/><path d="M0-513V-457" transform="rotate(253.8)"/><path d="M0-513V-459" transform="rotate(255.4)"/><path d="M0-513V-458" transform="rotate(257.2)"/><path d="M0-513V-458" transform="rotate(258.9)"/><path d="M0-513V-458" transform="rotate(260.3)"/><path d="M0-513V-459" transform="rotate(262.1)"/><path d="M0-513V-457" transform="rotate(264.1)"/><path d="M0-513V-458" transform="rotate(265.9)"/><path d="M0-513V-457" transform="rotate(267.6)"/><path d="M0-513V-457" transform="rotate(269.2)"/><path d="M0-513V-457" transform="rotate(271)"/><path d="M0-513V-457" transform="rotate(272.6)"/><path d="M0-513V-458" transform="rotate(274.4)"/><path d="M0-513V-460" transform="rotate(276.1)"/>
<path d="M0-587V-665" transform="rotate(280.8)"/><path d="M0-587V-666" transform="rotate(282)"/><path d="M0-587V-665" transform="rotate(283.2)"/>
<path d="M0-512V-462" transform="rotate(291.7)"/><path d="M0-512V-462" transform="rotate(293.4)"/>
<path d="M0-512V-460" transform="rotate(298.7)"/><path d="M0-512V-464" transform="rotate(300.4)"/><path d="M0-512V-468" transform="rotate(302.4)"/><path d="M0-512V-470" transform="rotate(304)"/><path d="M0-512V-474" transform="rotate(305.8)"/><path d="M0-512V-477" transform="rotate(307.4)"/>
<path d="M0-590V-638" transform="rotate(301.3)"/><path d="M0-590V-638" transform="rotate(302.7)"/>
<path d="M0-512V-451" transform="rotate(337.1)"/><path d="M0-512V-450" transform="rotate(339.6)"/><path d="M0-512V-452" transform="rotate(340.9)"/><path d="M0-512V-452" transform="rotate(342)"/><path d="M0-512V-454" transform="rotate(343.3)"/>
<path d="M0-580V-643" transform="rotate(345)"/><path d="M0-580V-643" transform="rotate(346.1)"/><path d="M0-580V-643" transform="rotate(347.2)"/>
<path d="M0-580V-608" transform="rotate(352.9)"/><path d="M0-580V-588" transform="rotate(335.8)"/>
<path d="M0-515V-463" transform="rotate(12.4)"/><path d="M0-515V-458" transform="rotate(10.9)"/>
</g>

<g class="L">
<text x="512" class="e" transform="rotate(-87.4)">psaA</text>
<text x="513" class="e" transform="rotate(-82.2)">psaB</text>
<text x="456" class="e" transform="rotate(-79.1)">rps14</text>
<text x="461" class="e" transform="rotate(-77.6)">trnfM-CAU</text>
<text x="513" class="e" transform="rotate(-75.1)">trnS-UGA</text>
<text x="640" class="s" transform="rotate(-77.8)">trnG-GCC</text>
<text x="638" class="s" transform="rotate(-76.4)">psbZ</text>
<text x="598" class="s" transform="rotate(-72.5)">psbC</text>
<text x="598" class="s" transform="rotate(-68.8)">psbD</text>
<text x="456" class="e" transform="rotate(-67.1)">trnE-UUC</text>
<text x="455" class="e" transform="rotate(-65.3)">trnY-GUA</text>
<text x="454" class="e" transform="rotate(-63.4)">trnD-GUC</text>
<text x="462" class="e" transform="rotate(-62.1)">psbM</text>
<text x="588" class="s" transform="rotate(-60.3)">petN</text>
<text x="590" class="s" transform="rotate(-58.7)">trnC-GCA</text>
<text x="516" class="e" transform="rotate(-51.7)">rpoB</text>
<text x="511" class="e" transform="rotate(-47.2)">rpoC1</text>
<text x="513" class="e" transform="rotate(-43)">rpoC1</text>
<text x="515" class="e" transform="rotate(-36.6)">rpoC2</text>
<text x="510" class="e" transform="rotate(-31.8)">rps2</text>
<text x="512" class="e" transform="rotate(-29.2)">atpI</text>
<text x="458" class="e" transform="rotate(-24.9)">atpH</text>
<text x="457" class="e" transform="rotate(-23.2)">atpF</text>
<text x="514" class="e" transform="rotate(-21)">atpF</text>
<text x="512" class="e" transform="rotate(-18.8)">atpA</text>
<text x="652" class="s" transform="rotate(-17.6)">trnR-UCU</text>
<text x="652" class="s" transform="rotate(-16.5)">trnG-UCC</text>
<text x="595" class="s" transform="rotate(-15.1)">trnG-UCC</text>
<text x="514" class="e" transform="rotate(-11.8)">trnS-GCU</text>
<text x="590" class="s" transform="rotate(-12.2)">psbI</text>
<text x="593" class="s" transform="rotate(-11)">psbK</text>
<text x="514" class="e" transform="rotate(-9.5)">trnQ-UUG</text>
<text x="513" class="e" transform="rotate(-5.3)">rps16</text>
<text x="513" class="e" transform="rotate(-3.2)">rps16</text>
<text x="513" class="e" transform="rotate(-1.7)">trnK-UUU</text>
<text x="513" class="e" transform="rotate(1.6)">matK</text>
<text x="514" class="e" transform="rotate(3.9)">trnK-UUU</text>
<text x="510" class="e" transform="rotate(5.5)">psbA</text>
<text x="514" class="e" transform="rotate(7.3)">trnH-GUG</text>
<text x="593" class="s" transform="rotate(9.2)">rpl22</text>
<text x="655" class="s" transform="rotate(10.3)">rps19</text>
<text x="648" class="s" transform="rotate(11.6)">rpl2</text>
<text x="648" class="s" transform="rotate(13.7)">rpl2</text>
<text x="650" class="s" transform="rotate(14.9)">rpl23</text>
<text x="650" class="s" transform="rotate(16)">trnI-CAU</text>
<text x="508" class="e" transform="rotate(24.3)">ycf2</text>
<text x="590" class="s" transform="rotate(33)">trnL-CAA</text>
<text x="590" class="s" transform="rotate(34.9)">ndhB</text>
<text x="585" class="s" transform="rotate(38.2)">ndhB</text>
<text x="634" class="s" transform="rotate(41.5)">rps7</text>
<text x="648" class="s" transform="rotate(42.4)">rsp12</text>
<text x="654" class="s" transform="rotate(43.6)">rsp12</text>
<text x="514" class="e" transform="rotate(46.8)">trnV-GAC</text>
<text x="515" class="e" transform="rotate(48.5)">rrn16</text>
<text x="456" class="e" transform="rotate(50.7)">trnI-GAU</text>
<text x="459" class="e" transform="rotate(52.5)">trnI-GAU</text>
<text x="460" class="e" transform="rotate(54.2)">trnA-UGC</text>
<text x="514" class="e" transform="rotate(55.3)">trnA-UGC</text>
<text x="508" class="e" transform="rotate(60.5)">rrn23</text>
<text x="466" class="e" transform="rotate(62.4)">rrn4.5</text>
<text x="462" class="e" transform="rotate(63.6)">rrn5</text>
<text x="458" class="e" transform="rotate(64.9)">trnR-ACG</text>
<text x="593" class="s" transform="rotate(65.6)">trnN-GUU</text>
<text x="508" class="e" transform="rotate(74)">ycf1</text>
<text x="512" class="e" transform="rotate(81.5)">rps15</text>
<text x="512" class="e" transform="rotate(83.4)">ndhH</text>
<text x="512" class="e" transform="rotate(85.1)">ndhA</text>
<text x="457" class="e" transform="rotate(88.1)">ndhA</text>
<text x="457" class="e" transform="rotate(89.8)">ndhI</text>
<text x="-457" class="s" transform="rotate(-88.4)">ndhG</text>
<text x="-457" class="s" transform="rotate(-86.5)">ndhE</text>
<text x="-457" class="s" transform="rotate(-85.2)">psaC</text>
<text x="-514" class="s" transform="rotate(-83.6)">ndhD</text>
<text x="-593" class="e" transform="rotate(-80.8)">ccsA</text>
<text x="-601" class="e" transform="rotate(-79)">trnL-UAG</text>
<text x="-595" class="e" transform="rotate(-77.1)">rpl32</text>
<text x="-593" class="e" transform="rotate(-74)">ndhF</text>
<text x="-590" class="e" transform="rotate(-68.7)">ycf1</text>
<text x="-515" class="s" transform="rotate(-65.2)">trnN-GUU</text>
<text x="-646" class="e" transform="rotate(-64.8)">trnR-ACG</text>
<text x="-649" class="e" transform="rotate(-63.4)">rrn5</text>
<text x="-649" class="e" transform="rotate(-62.5)">rrn4.5</text>
<text x="-593" class="e" transform="rotate(-58.5)">rrn23</text>
<text x="-652" class="e" transform="rotate(-56)">trnA-UGC</text>
<text x="-652" class="e" transform="rotate(-54.4)">trnA-UGC</text>
<text x="-650" class="e" transform="rotate(-53.1)">trnI-GAU</text>
<text x="-601" class="e" transform="rotate(-51.4)">trnI-GAU</text>
<text x="-592" class="e" transform="rotate(-49)">rrn16</text>
<text x="-600" class="e" transform="rotate(-47)">trnV-GAC</text>
<text x="-481" class="s" transform="rotate(-45.8)">rps12</text>
<text x="-481" class="s" transform="rotate(-44.2)">rps12</text>
<text x="-485" class="s" transform="rotate(-42.1)">rps7</text>
<text x="-510" class="s" transform="rotate(-37.4)">ndhB</text>
<text x="-514" class="s" transform="rotate(-34.3)">ndhB</text>
<text x="-512" class="s" transform="rotate(-31.8)">trnL-CAA</text>
<text x="-600" class="e" transform="rotate(-23.8)">ycf2</text>
<text x="-455" class="s" transform="rotate(-17.9)">trnI-CAU</text>
<text x="-455" class="s" transform="rotate(-16.2)">rpl23</text>
<text x="-457" class="s" transform="rotate(-14.6)">rpl2</text>
<text x="-456" class="s" transform="rotate(-12.8)">rpl2</text>
<text x="-456" class="s" transform="rotate(-11.1)">rps19</text>
<text x="-456" class="s" transform="rotate(-9.7)">rpl22</text>
<text x="-457" class="s" transform="rotate(-7.9)">rps3</text>
<text x="-455" class="s" transform="rotate(-5.9)">rpl16</text>
<text x="-456" class="s" transform="rotate(-4.1)">rpl16</text>
<text x="-455" class="s" transform="rotate(-2.4)">rpl14</text>
<text x="-455" class="s" transform="rotate(-0.8)">rps8</text>
<text x="-455" class="s" transform="rotate(1)">infA</text>
<text x="-455" class="s" transform="rotate(2.6)">rpl36</text>
<text x="-456" class="s" transform="rotate(4.4)">rps11</text>
<text x="-458" class="s" transform="rotate(6.1)">rpoA</text>
<text x="-592" class="e" transform="rotate(5.7)">petD</text>
<text x="-600" class="e" transform="rotate(7.4)">petD</text>
<text x="-600" class="e" transform="rotate(8.8)">petB</text>
<text x="-667" class="e" transform="rotate(10.8)">petB</text>
<text x="-668" class="e" transform="rotate(12)">psbH</text>
<text x="-667" class="e" transform="rotate(13.2)">psbT</text>
<text x="-498" class="s" transform="rotate(12.2)">psbN</text>
<text x="-598" class="e" transform="rotate(15.1)">psbB</text>
<text x="-500" class="s" transform="rotate(18.1)">clpP</text>
<text x="-460" class="s" transform="rotate(21.7)">clpP</text>
<text x="-460" class="s" transform="rotate(23.4)">rps12</text>
<text x="-495" class="s" transform="rotate(25.3)">rpl20</text>
<text x="-594" class="e" transform="rotate(27.1)">rps18</text>
<text x="-596" class="e" transform="rotate(28.2)">rpl33</text>
<text x="-596" class="e" transform="rotate(29.7)">psaJ</text>
<text x="-458" class="s" transform="rotate(28.7)">trnP-UGG</text>
<text x="-462" class="s" transform="rotate(30.4)">trnW-CCA</text>
<text x="-466" class="s" transform="rotate(32.4)">psbE</text>
<text x="-468" class="s" transform="rotate(34)">psbF</text>
<text x="-472" class="s" transform="rotate(35.8)">psbL</text>
<text x="-475" class="s" transform="rotate(37.4)">psbJ</text>
<text x="-640" class="e" transform="rotate(31.3)">petG</text>
<text x="-640" class="e" transform="rotate(32.7)">petL</text>
<text x="-595" class="e" transform="rotate(40.4)">petA</text>
<text x="-592" class="e" transform="rotate(42.6)">cemA</text>
<text x="-594" class="e" transform="rotate(45.4)">ycf4</text>
<text x="-600" class="e" transform="rotate(47.2)">psaI</text>
<text x="-603" class="e" transform="rotate(51.2)">accD</text>
<text x="-598" class="e" transform="rotate(57.7)">rbcL</text>
<text x="-510" class="s" transform="rotate(63.6)">atpB</text>
<text x="-449" class="s" transform="rotate(67.1)">atpE</text>
<text x="-448" class="s" transform="rotate(69.6)">trnV-UAC</text>
<text x="-450" class="s" transform="rotate(70.9)">trnV-UAC</text>
<text x="-450" class="s" transform="rotate(72)">ndhC</text>
<text x="-452" class="s" transform="rotate(73.3)">ndhK</text>
<text x="-514" class="s" transform="rotate(74)">ndhJ</text>
<text x="-590" class="e" transform="rotate(65.8)">trnM-CAU</text>
<text x="-645" class="e" transform="rotate(75)">trnF-GAA</text>
<text x="-645" class="e" transform="rotate(76.1)">trnL-UAA</text>
<text x="-645" class="e" transform="rotate(77.2)">trnL-UAA</text>
<text x="-516" class="s" transform="rotate(80.2)">trnT-UGU</text>
<text x="-516" class="s" transform="rotate(81.3)">rps4</text>
<text x="-610" class="e" transform="rotate(82.9)">trnS-GGA</text>
<text x="-513" class="s" transform="rotate(84.1)">ycf3</text>
<text x="-513" class="s" transform="rotate(86.1)">ycf3</text>
<text x="-513" class="s" transform="rotate(87.9)">ycf3</text>
</g>
</g>

<g stroke="#000" stroke-width="1.2">
<rect x="20" y="1168" width="17" height="16" fill="#1a6b34"/>
<rect x="20" y="1189.4" width="17" height="16" fill="#2f8f2f"/>
<rect x="20" y="1210.8" width="17" height="16" fill="#7a9a1e"/>
<rect x="20" y="1232.2" width="17" height="16" fill="#9dc11b"/>
<rect x="20" y="1253.6" width="17" height="16" fill="#fbe900"/>
<rect x="20" y="1275" width="17" height="16" fill="#2a9e3a"/>
<rect x="20" y="1296.4" width="17" height="16" fill="#c3161f"/>
<rect x="20" y="1317.8" width="17" height="16" fill="#dcaa78"/>
<rect x="20" y="1339.2" width="17" height="16" fill="#a07a48"/>
<rect x="20" y="1360.6" width="17" height="16" fill="#f06010"/>
<rect x="20" y="1382" width="17" height="16" fill="#a0229a"/>
<rect x="20" y="1403.4" width="17" height="16" fill="#fdfad8"/>
<rect x="20" y="1424.8" width="17" height="16" fill="#4fb3a6"/>
<rect x="20" y="1446.2" width="17" height="16" fill="#1c2c8c"/>
<rect x="20" y="1467.6" width="17" height="16" fill="#e3001b"/>
<rect x="20" y="1489" width="17" height="16" fill="#f08080"/>
<rect x="20" y="1510.4" width="17" height="16" fill="#fff"/>
<rect x="20" y="1531.8" width="17" height="16" fill="#ff0000"/>
</g>
<g font-size="16.8" fill="#111">
<text x="43" y="1182">photosystem I</text>
<text x="43" y="1203.4">photosystem II</text>
<text x="43" y="1224.8">cytochrome b/f complex</text>
<text x="43" y="1246.2">ATP synthase</text>
<text x="43" y="1267.6">NADH dehydrogenase</text>
<text x="43" y="1289">RubisCO large subunit</text>
<text x="43" y="1310.4">RNA polymerase</text>
<text x="43" y="1331.8">ribosomal proteins (SSU)</text>
<text x="43" y="1353.2">ribosomal proteins (LSU)</text>
<text x="43" y="1374.6">clpP, matK</text>
<text x="43" y="1396">other genes</text>
<text x="43" y="1417.4">hypothetical chloroplast reading frames (ycf)</text>
<text x="43" y="1438.8">ORFs</text>
<text x="43" y="1460.2">transfer RNAs</text>
<text x="43" y="1481.6">ribosomal RNAs</text>
<text x="43" y="1503">origin of replication</text>
<text x="43" y="1524.4">introns</text>
<text x="43" y="1545.8">polycistronic transcripts</text>
</g>
</svg>
</body></html>
